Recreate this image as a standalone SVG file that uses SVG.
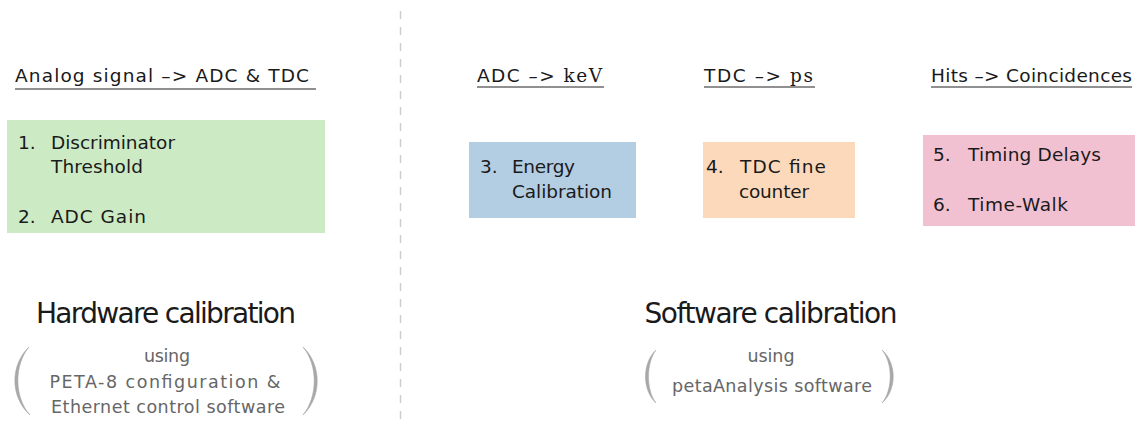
<svg xmlns="http://www.w3.org/2000/svg" width="1145" height="425" viewBox="0 0 1145 425">
<style>
text{font-family:"DejaVu Sans","Liberation Sans",sans-serif;fill:#1a1a1a}
.h{font-size:18.5px}
.m{font-family:"DejaVu Serif","Liberation Serif",serif}
.b{font-size:18.5px}
.t{font-size:28px;text-anchor:middle}
.g{font-size:17.5px;fill:#666;text-anchor:middle}
.ul{stroke:#222;stroke-width:1.2}
.par{fill:#a8a8a8;stroke:#a8a8a8;stroke-width:0.6}
</style>
<g id="divider"><line x1="400.5" y1="10" x2="400.5" y2="425" stroke="#cfcfcf" stroke-width="1.5" stroke-dasharray="8 8" stroke-dashoffset="-1"/></g>
<g id="head-analog"><text class="h" x="15" y="82" textLength="294">Analog signal –&gt; ADC &amp; TDC</text><line class="ul" x1="15" y1="89" x2="316" y2="89"/></g>
<g id="head-adc"><text class="h" x="477" y="82" textLength="125">ADC –&gt; <tspan class="m">keV</tspan></text><line class="ul" x1="477" y1="87" x2="604" y2="87"/></g>
<g id="head-tdc"><text class="h" x="704" y="82" textLength="109">TDC –&gt; <tspan class="m">ps</tspan></text><line class="ul" x1="704" y1="87" x2="815" y2="87"/></g>
<g id="head-hits"><text class="h" x="931" y="82" textLength="201">Hits –&gt; Coincidences</text><line class="ul" x1="931" y1="87" x2="1132" y2="87"/></g>
<g id="box-hw"><rect x="7" y="120" width="318" height="113" fill="#ccebc5"/>
<text class="b" x="18" y="149">1.</text><text class="b" x="51" y="149" textLength="124">Discriminator</text><text class="b" x="51" y="173" textLength="92">Threshold</text>
<text class="b" x="18" y="223">2.</text><text class="b" x="51" y="223" textLength="95">ADC Gain</text></g>
<g id="box-energy"><rect x="469" y="142" width="167" height="76" fill="#b3cde3"/>
<text class="b" x="480" y="173">3.</text><text class="b" x="512" y="173" textLength="63">Energy</text><text class="b" x="512" y="198" textLength="100">Calibration</text></g>
<g id="box-tdc"><rect x="703" y="142" width="152" height="76" fill="#fcd9bb"/>
<text class="b" x="706" y="173">4.</text><text class="b" x="740" y="173" textLength="86">TDC fine</text><text class="b" x="739" y="198" textLength="70">counter</text></g>
<g id="box-hits"><rect x="923" y="135" width="212" height="91" fill="#f2c1d1"/>
<text class="b" x="933" y="161">5.</text><text class="b" x="968" y="161" textLength="133">Timing Delays</text>
<text class="b" x="933" y="211">6.</text><text class="b" x="968" y="211" textLength="100">Time-Walk</text></g>
<g id="hw-label"><text class="t" x="166" y="323" textLength="260">Hardware calibration</text>
<text class="g" x="167" y="362" textLength="46">using</text><text class="g" x="165" y="388" textLength="231">PETA-8 configuration &amp;</text><text class="g" x="168" y="413" textLength="234">Ethernet control software</text>
<path class="par" d="M29 347 C10 365 10 397 30 415 C14 397 14 365 29 347Z"/><path class="par" d="M303 347 C322 365 322 397 303 415 C318 397 318 365 303 347Z"/></g>
<g id="sw-label"><text class="t" x="771" y="323" textLength="253">Software calibration</text>
<text class="g" x="771" y="362" textLength="47">using</text><text class="g" x="772" y="392" textLength="200">petaAnalysis software</text>
<path class="par" d="M656 350 C642 363 642 390 656 403 C646 390 646 363 656 350Z"/><path class="par" d="M882 350 C897 363 897 390 882 403 C893 390 893 363 882 350Z"/></g>
</svg>
